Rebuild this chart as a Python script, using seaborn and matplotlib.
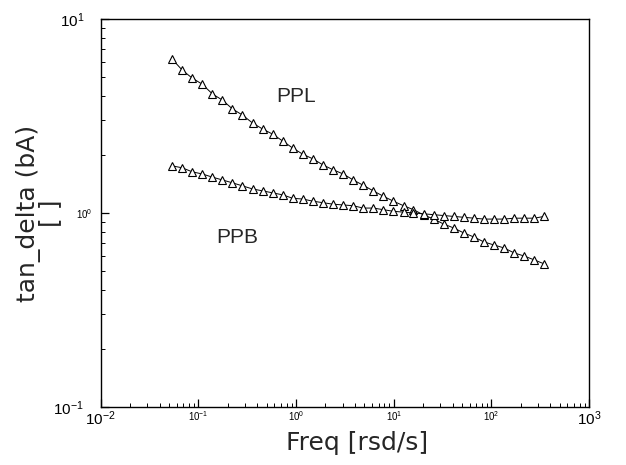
import matplotlib
matplotlib.use('Agg')
import matplotlib.pyplot as plt
import matplotlib.ticker as mticker
import pandas as pd
import seaborn as sns

# values
freq = [0.0537, 0.0681, 0.0863, 0.109, 0.139, 0.176, 0.223, 0.282, 0.358, 0.454,
        0.575, 0.729, 0.925, 1.17, 1.49, 1.88, 2.39, 3.03, 3.84, 4.86,
        6.17, 7.82, 9.91, 12.6, 15.9, 20.2, 25.6, 32.4, 41.1, 52.1,
        66.1, 83.8, 106, 135, 171, 216, 274, 348]
ppl = [6.22, 5.46, 4.96, 4.62, 4.11, 3.82, 3.44, 3.20, 2.91, 2.71,
       2.55, 2.35, 2.16, 2.01, 1.90, 1.77, 1.67, 1.59, 1.48, 1.39,
       1.30, 1.22, 1.15, 1.09, 1.04, 0.977, 0.931, 0.877, 0.837, 0.789,
       0.752, 0.709, 0.684, 0.660, 0.622, 0.600, 0.573, 0.546]
ppb = [1.75, 1.71, 1.63, 1.59, 1.53, 1.48, 1.43, 1.38, 1.33, 1.30,
       1.27, 1.24, 1.19, 1.18, 1.15, 1.13, 1.11, 1.10, 1.09, 1.06,
       1.06, 1.04, 1.02, 1.01, 1.00, 0.99, 0.98, 0.97, 0.96, 0.95,
       0.94, 0.93, 0.93, 0.93, 0.94, 0.94, 0.94, 0.96]
x_ticks = [1e-2, 1e-1, 1e0, 1e1, 1e2, 1e3]
x_ticklabels = ['$10^{-2}$', '$10^{-1}$', '$10^{0}$', '$10^{1}$', '$10^{2}$', '$10^{3}$']
y_ticks = [1e-1, 1e0, 1e1]
y_ticklabels = ['$10^{-1}$', '$10^{0}$', '$10^{1}$']

df = pd.DataFrame({
    'freq': freq + freq,
    'tan_delta': ppl + ppb,
    'sample': ['PPL'] * len(ppl) + ['PPB'] * len(ppb),
})

sns.set_style('ticks')
plt.rcParams['font.family'] = ['Liberation Sans', 'DejaVu Sans']
plt.rcParams['mathtext.fontset'] = 'custom'
plt.rcParams['mathtext.rm'] = 'Liberation Sans'
plt.rcParams['mathtext.it'] = 'Liberation Sans'
plt.rcParams['mathtext.default'] = 'regular'

fig = plt.figure(figsize=(6.26, 4.65), dpi=100)
ax = fig.add_axes([0.161, 0.125, 0.780, 0.834])

sns.lineplot(data=df, x='freq', y='tan_delta', hue='sample', style='sample',
             markers=['^', '^'], dashes=False, palette=['black', 'black'],
             markersize=5.4, markerfacecolor='white', markeredgecolor='black',
             markeredgewidth=0.8, linewidth=0.7, legend=False, sort=False, ax=ax)

ax.set_xscale('log')
ax.set_yscale('log')
ax.set_xlim(1e-2, 1e3)
ax.set_ylim(1e-1, 1e1)

ax.set_xticks(x_ticks)
ax.set_xticklabels(x_ticklabels)
ax.set_yticks(y_ticks)
ax.set_yticklabels(y_ticklabels)
ax.xaxis.set_minor_locator(mticker.LogLocator(base=10, subs=range(2, 10), numticks=20))
ax.yaxis.set_minor_locator(mticker.LogLocator(base=10, subs=range(2, 10), numticks=20))
ax.xaxis.set_minor_formatter(mticker.NullFormatter())
ax.yaxis.set_minor_formatter(mticker.NullFormatter())
ax.tick_params(which='major', direction='in', length=6, width=0.9, colors='black')
ax.tick_params(which='minor', direction='in', length=3, width=0.7, colors='black')
ax.tick_params(axis='x', pad=2)
ax.tick_params(axis='y', pad=12)
ax.yaxis.get_major_ticks()[1].set_pad(6)

# the end labels are printed bigger than the inner ones in the reference
for i, lab in enumerate(ax.get_xticklabels()):
    lab.set_fontsize(11 if i in (0, len(x_ticks) - 1) else 7)
for i, lab in enumerate(ax.get_yticklabels()):
    lab.set_fontsize(7 if i == 1 else 11)

for s in ax.spines.values():
    s.set_color('black')
    s.set_linewidth(1.0)

ax.set_xlabel('Freq [rsd/s]', fontsize=18, family='DejaVu Sans')
ax.xaxis.set_label_coords(0.525, -0.062)
ax.set_ylabel('tan_delta (bA)\n[ ]', fontsize=18, family='DejaVu Sans', linespacing=0.85)
ax.yaxis.set_label_coords(-0.08, 0.5)

ax.text(1.0, 4.0, 'PPL', fontsize=15, ha='center', va='center')
ax.text(0.247, 0.75, 'PPB', fontsize=15, ha='center', va='center')

fig.savefig('out.png', dpi=100, facecolor='white')
plt.close(fig)
